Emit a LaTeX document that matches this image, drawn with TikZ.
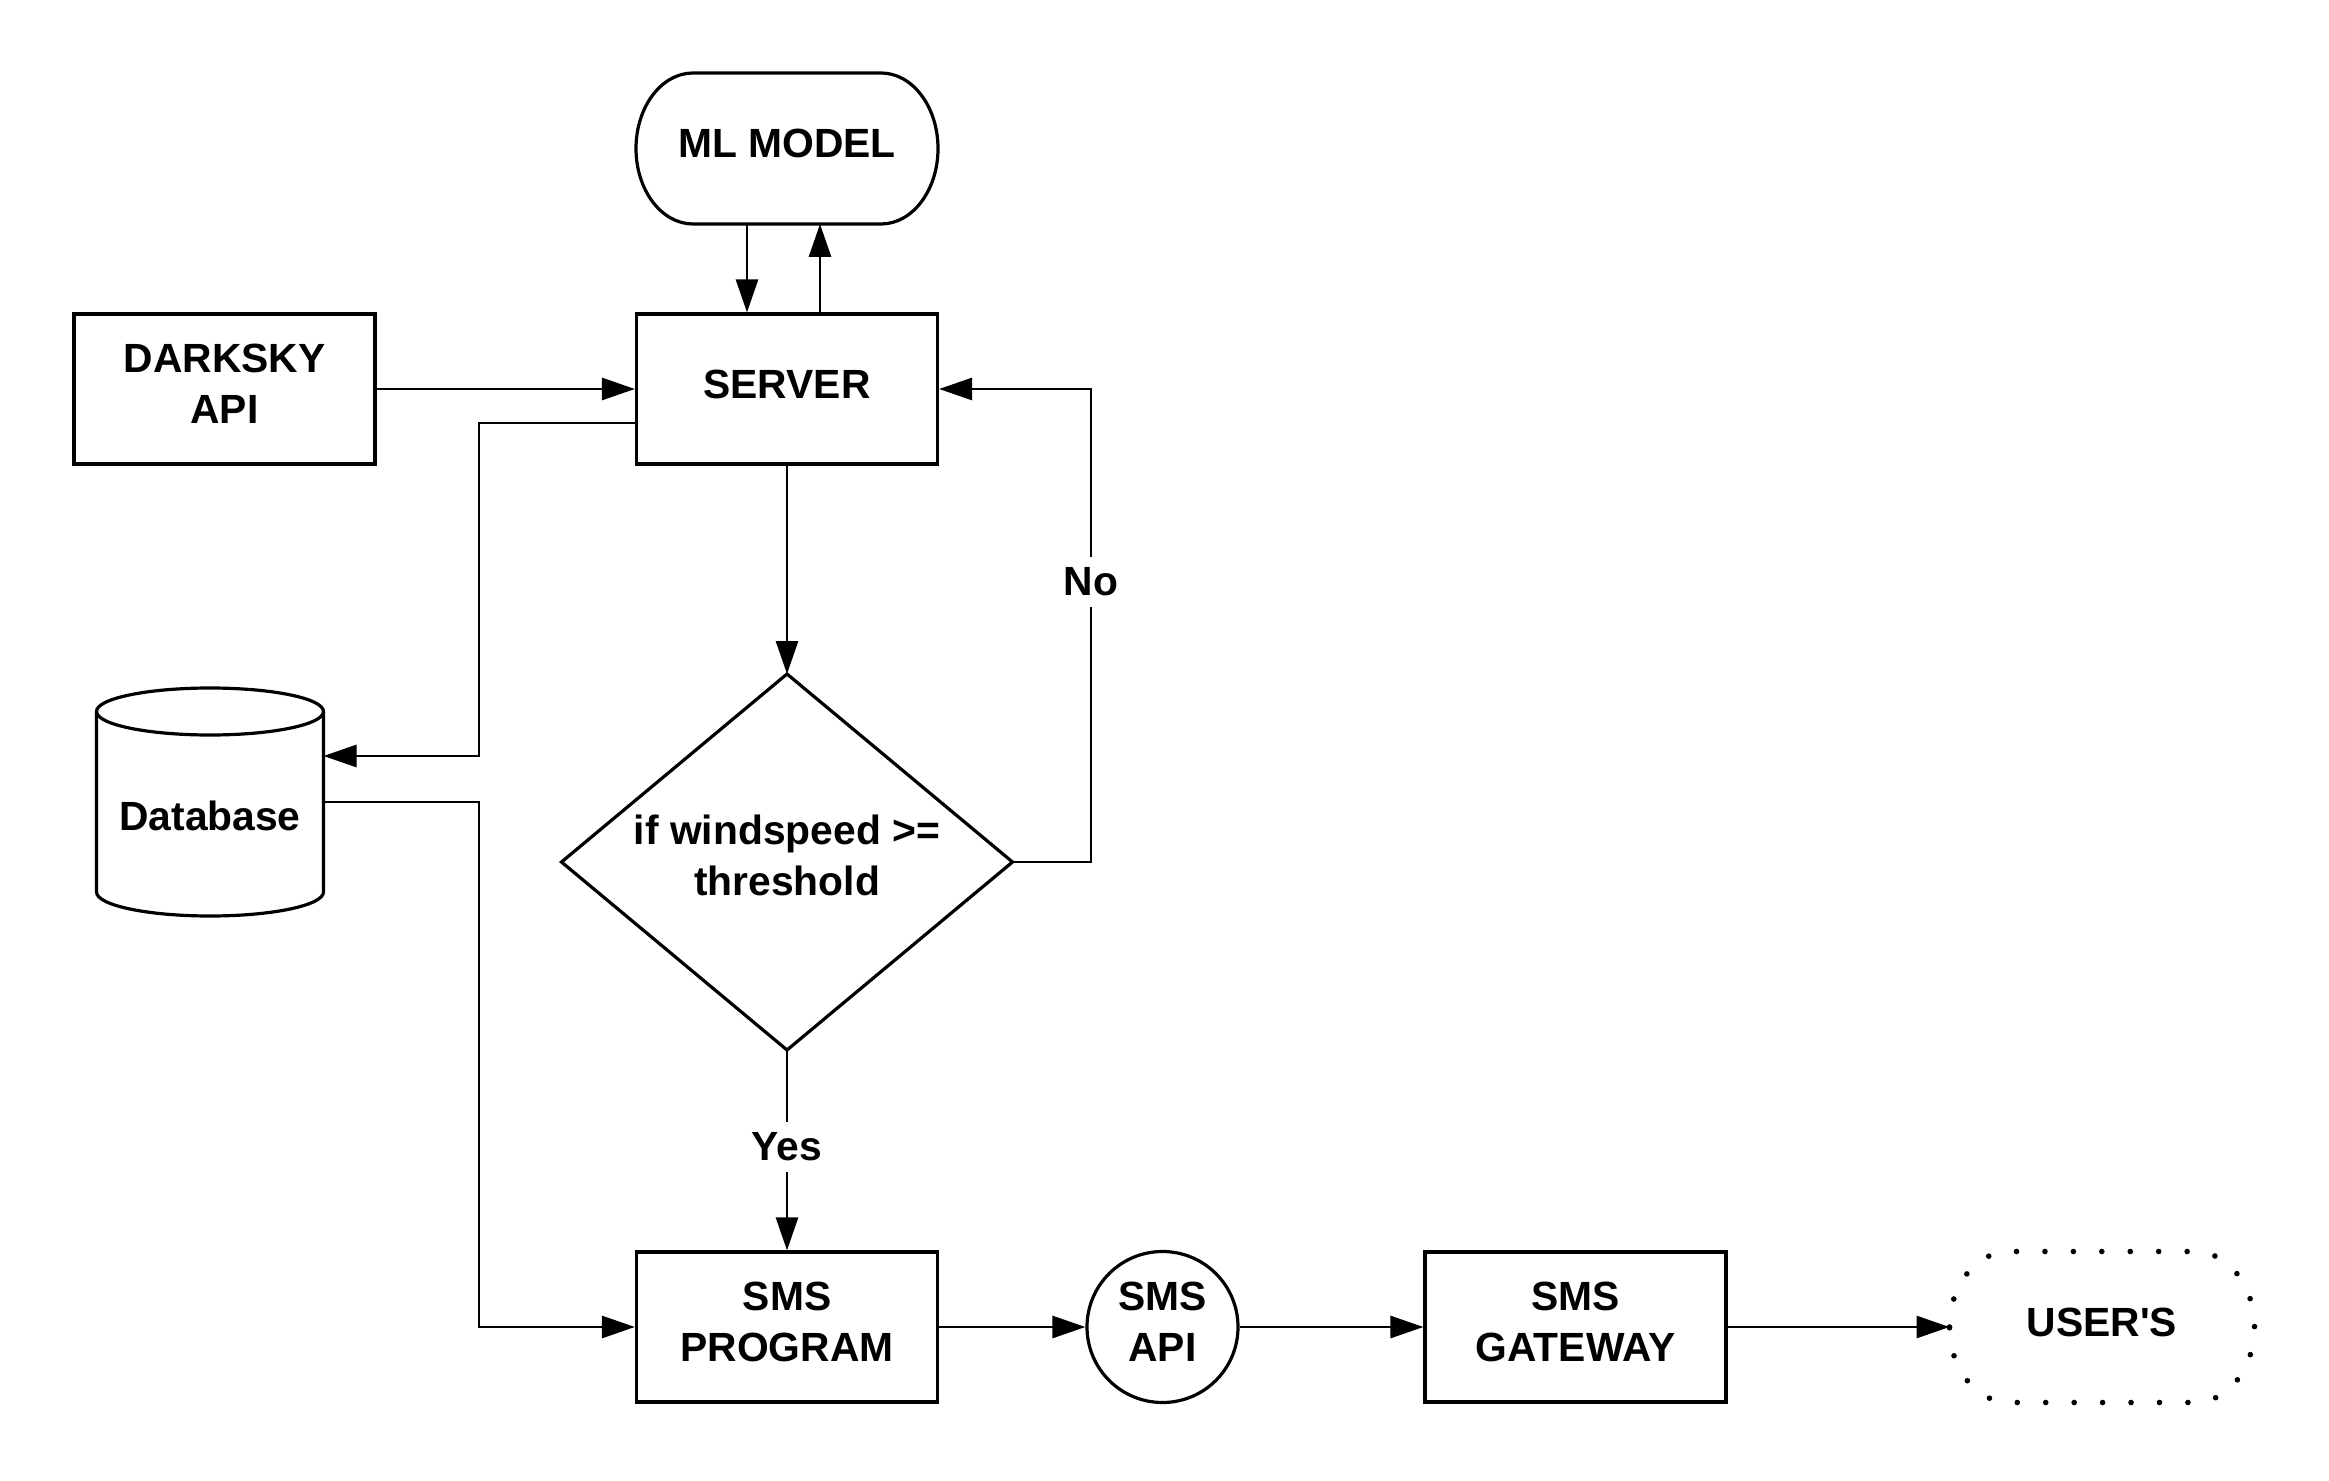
\documentclass[tikz,border=0pt]{standalone}
\usepackage{fontspec}
\setmainfont{Liberation Sans}[Ligatures=TeXOff]
\usetikzlibrary{arrows.meta,shapes.geometric,calc}
\begin{document}
\begin{tikzpicture}[x=0.5pt,y=-0.5pt,
  font=\fontsize{20.4}{25.5}\selectfont\bfseries,
  box/.style={draw,line width=1.6pt,rectangle,minimum width=150.5pt,minimum height=75pt,align=center,inner sep=0pt,text depth=5.2pt},
  termbox/.style={rectangle,minimum width=#1,minimum height=75.5pt,inner sep=0pt,outer sep=0pt,align=center,text depth=5.2pt},
  shp/.style={line width=1.6pt},
  dotline/.style={line width=2.8pt,line cap=round,dash pattern=on 0pt off 14.22pt},
  arr/.style={line width=1.45pt,-{Triangle[length=16.5pt,width=11pt]}},
  lbl/.style={fill=white,inner xsep=3pt,inner ysep=5.5pt}]
\fill[white] (0,0) rectangle (2329,1481);
\useasboundingbox (0,0) rectangle (2329,1481);

% ML model (terminator)
\node[termbox=151pt] (ml) at (787,148.5) {ML MODEL};
\draw[shp] ([xshift=28.5pt]ml.north west) -- ([xshift=-28.5pt]ml.north east)
  arc[start angle=90,end angle=-90,x radius=28.5pt,y radius=37.75pt]
  -- ([xshift=28.5pt]ml.south west)
  arc[start angle=270,end angle=90,x radius=28.5pt,y radius=37.75pt] -- cycle;

\node[box] (server) at (787,389) {SERVER};
\node[box] (dark) at (224.5,389) {DARKSKY\\API};

% Database cylinder
\node[inner sep=0pt,outer sep=0pt,minimum width=113.5pt,minimum height=114pt] (db) at (210,802) {};
\draw[shp] ([yshift=-11.75pt]db.north) ellipse[x radius=56.75pt,y radius=11.75pt];
\draw[shp] ([yshift=-11.75pt]db.north west) -- ([yshift=12pt]db.south west)
  arc[start angle=180,end angle=360,x radius=56.75pt,y radius=12pt]
  -- ([yshift=-11.75pt]db.north east);
\node[text depth=5.2pt] (dbtext) at (210,821) {Database};

% Decision diamond
\node[inner sep=0pt,outer sep=0pt,minimum width=225.5pt,minimum height=188pt,align=center,text depth=7pt] (dia) at (787,862) {if windspeed >=\\threshold};
\draw[shp,line join=miter] (dia.north) -- (dia.east) -- (dia.south) -- (dia.west) -- cycle;

\node[box] (prog) at (787,1327) {SMS\\PROGRAM};
\node[circle,draw,line width=1.6pt,minimum size=75.5pt,inner sep=0pt,align=center,text depth=5.2pt] (api) at (1162.5,1327) {SMS\\API};
\node[box] (gate) at (1575.5,1327) {SMS\\GATEWAY};

% Users (dotted terminator)
\node[termbox=152.5pt] (users) at (2102,1327) {USER'S};
\draw[dotline] (users.west)
  arc[start angle=180,end angle=90,x radius=30pt,y radius=37.75pt]
  -- ([xshift=-30pt]users.north east)
  arc[start angle=90,end angle=-90,x radius=30pt,y radius=37.75pt]
  -- ([xshift=30pt]users.south west)
  arc[start angle=270,end angle=180,x radius=30pt,y radius=37.75pt];

% Connectors
\draw[arr] ([xshift=-20pt]ml.south) -- ([xshift=-20pt]server.north);
\draw[arr] ([xshift=16.5pt]server.north) -- ([xshift=16.5pt]ml.south);
\draw[arr] (dark) -- (server);
\coordinate (busx) at (479,0);
\coordinate (dbin) at ([yshift=23pt]db.east);
\draw[arr] ([yshift=-17pt]server.west) -| (busx |- dbin) -- (dbin);
\draw[arr] (db.east) -| (busx |- prog.west) -- (prog.west);
\draw[arr] (server.south) -- (dia.north);
\coordinate (nox) at (1091,0);
\draw[arr] (dia.east) -| (nox |- server.east) -- (server.east);
\node[lbl] (no) at (1091,582) {No};
\draw[arr] (dia.south) -- (prog.north);
\node[lbl] (yes) at (787,1147) {Yes};
\draw[arr] (prog) -- (api);
\draw[arr] (api) -- (gate);
\draw[arr] (gate.east) -- (users.west);
\end{tikzpicture}
\end{document}
